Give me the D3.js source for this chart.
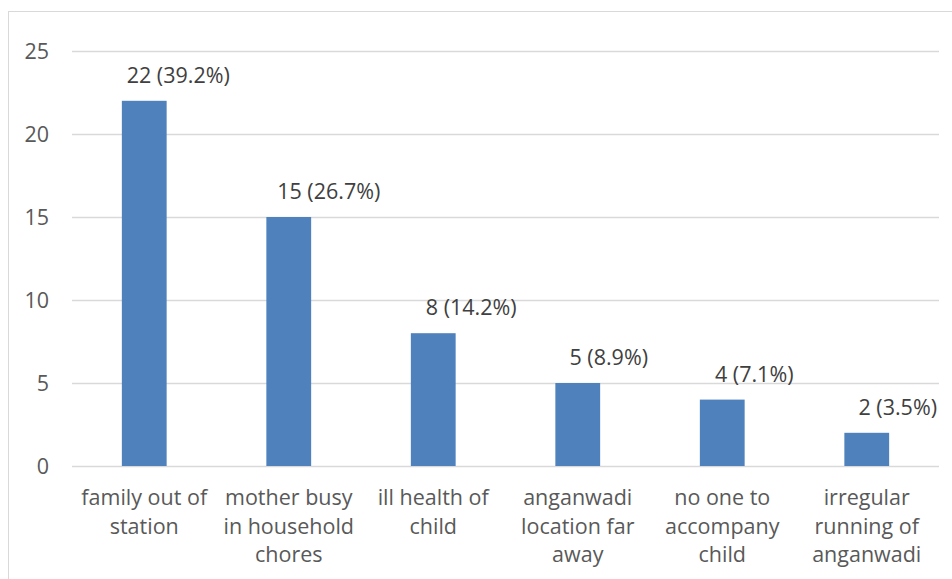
<!DOCTYPE html>
<html>
<head>
<meta charset="utf-8">
<script src="https://cdn.jsdelivr.net/npm/d3@7"></script>
<style>
  html, body { margin: 0; padding: 0; background: #fff; }
  svg { display: block; }
</style>
</head>
<body>
<svg id="chart" width="952" height="579"></svg>
<script>
// ---- data ----
const categories = [
  "family out of station",
  "mother busy in household chores",
  "ill health of child",
  "anganwadi location far away",
  "no one to accompany child",
  "irregular running of anganwadi"
];
const categoryLines = [
  ["family out of", "station"],
  ["mother busy", "in household", "chores"],
  ["ill health of", "child"],
  ["anganwadi", "location far", "away"],
  ["no one to", "accompany", "child"],
  ["irregular", "running of", "anganwadi"]
];
const values = [22, 15, 8, 5, 4, 2];
const percents = ["39.2%", "26.7%", "14.2%", "8.9%", "7.1%", "3.5%"];
const yTicks = [0, 5, 10, 15, 20, 25];

// ---- layout ----
const plot = { left: 72, right: 939, top: 51, bottom: 466 };
const labelNudge = [34, 40, 38, 31, 32, 31]; // manual data-label shifts as in source
const FONT = "'Open Sans', 'Noto Sans', sans-serif";
const FS = 21.5;

const svg = d3.select("#chart");

// outer frame
svg.append("rect")
  .attr("x", 8.5).attr("y", 11.5)
  .attr("width", 1000).attr("height", 700)
  .attr("fill", "none").attr("stroke", "#d9d9d9").attr("stroke-width", 1);

const x = d3.scaleBand()
  .domain(categories)
  .range([plot.left, plot.right])
  .paddingInner(0.69).paddingOuter(0.345);

const y = d3.scaleLinear()
  .domain([0, 25])
  .range([plot.bottom, plot.top]);

// gridlines
svg.append("g")
  .selectAll("line")
  .data(yTicks)
  .join("line")
  .attr("x1", plot.left).attr("x2", plot.right)
  .attr("y1", d => Math.round(y(d)) + 0.5).attr("y2", d => Math.round(y(d)) + 0.5)
  .attr("stroke", "#d9d9d9").attr("stroke-width", 1.3);

// y axis labels
const yAxis = d3.axisLeft(y).tickValues(yTicks).tickSize(0).tickPadding(0);
const yG = svg.append("g")
  .attr("transform", `translate(49,0)`)
  .call(yAxis);
yG.select(".domain").remove();
yG.selectAll("text")
  .attr("font-family", FONT).attr("font-size", FS)
  .attr("fill", "#595959").attr("dy", "0.35em");

// bars
svg.append("g")
  .selectAll("rect")
  .data(values)
  .join("rect")
  .attr("x", (d, i) => x(categories[i]))
  .attr("width", x.bandwidth())
  .attr("y", d => y(d))
  .attr("height", d => y(0) - y(d))
  .attr("fill", "#4f81bd");

// data labels
svg.append("g")
  .selectAll("text")
  .data(values)
  .join("text")
  .attr("x", (d, i) => x(categories[i]) + x.bandwidth() / 2 + labelNudge[i])
  .attr("y", d => y(d) - 18)
  .attr("text-anchor", "middle")
  .attr("font-family", FONT).attr("font-size", FS)
  .attr("fill", "#404040")
  .text((d, i) => `${d} (${percents[i]})`);

// category labels
const xAxisG = svg.append("g");
categories.forEach((c, i) => {
  const t = xAxisG.append("text")
    .attr("x", x(c) + x.bandwidth() / 2)
    .attr("y", 505)
    .attr("text-anchor", "middle")
    .attr("font-family", FONT).attr("font-size", FS)
    .attr("fill", "#595959");
  categoryLines[i].forEach((line, j) => {
    t.append("tspan")
      .attr("x", x(c) + x.bandwidth() / 2)
      .attr("y", 505 + j * 28.5)
      .text(line);
  });
});
</script>
</body>
</html>
